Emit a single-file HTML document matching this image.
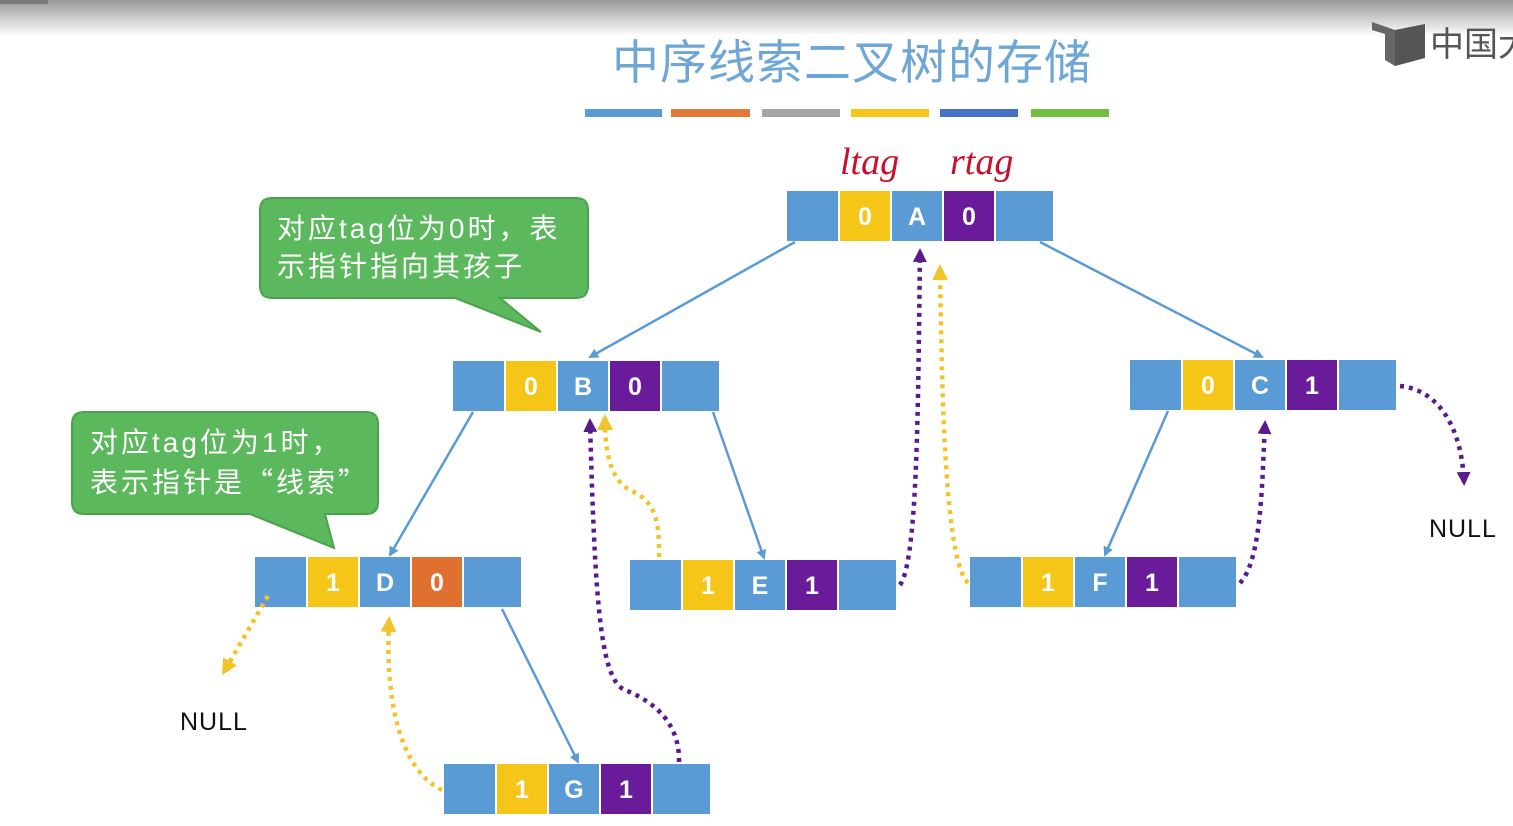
<!DOCTYPE html>
<html><head><meta charset="utf-8"><style>
html,body{margin:0;padding:0;background:#fff;}
body{width:1513px;height:826px;overflow:hidden;position:relative;font-family:"Liberation Sans","Noto Sans CJK SC",sans-serif;}
</style></head><body>
<svg width="1513" height="826" xmlns="http://www.w3.org/2000/svg" style="position:absolute;left:0;top:0">
<defs>
<linearGradient id="tg" x1="0" y1="0" x2="0" y2="1"><stop offset="0" stop-color="#9a9a9a"/><stop offset="1" stop-color="#ffffff"/></linearGradient>
<marker id="ab" markerWidth="10" markerHeight="10" refX="8" refY="5" orient="auto" markerUnits="userSpaceOnUse"><path d="M0,0 L10,5 L0,10 z" fill="#5b9bd5"/></marker>
<marker id="ay" markerWidth="16" markerHeight="16" refX="10" refY="8" orient="auto" markerUnits="userSpaceOnUse"><path d="M0,0 L16,8 L0,16 z" fill="#f2c42c"/></marker>
<marker id="ap" markerWidth="14" markerHeight="14" refX="10" refY="7" orient="auto" markerUnits="userSpaceOnUse"><path d="M0,0 L14,7 L0,14 z" fill="#5a1a8a"/></marker>
</defs>
<rect x="0" y="0" width="1513" height="36" fill="url(#tg)"/>
<rect x="0" y="0" width="48" height="4" fill="#777"/>
<path d="M1372,22 L1395,30 L1395,66 L1385,60 L1385,34 L1372,30 z" fill="#666"/>
<path d="M1395,30 L1425,24 L1425,58 L1395,66 z" fill="#555"/>
<text x="1430" y="56" font-size="34" fill="#555" font-family="Noto Sans CJK SC,sans-serif">中国大</text>
<text x="612" y="79" font-size="47" letter-spacing="1" fill="#6ea6d6" font-family="Noto Sans CJK SC,sans-serif">中序线索二叉树的存储</text>
<rect x="585" y="109" width="77" height="8" fill="#5b9bd5"/>
<rect x="671" y="109" width="79" height="8" fill="#e07a3a"/>
<rect x="762" y="109" width="78" height="8" fill="#a5a5a5"/>
<rect x="851" y="109" width="78" height="8" fill="#f5c518"/>
<rect x="940" y="109" width="78" height="8" fill="#4472c4"/>
<rect x="1031" y="109" width="78" height="8" fill="#70c040"/>
<text x="840" y="174" font-size="38" fill="#c8102e" font-style="italic" font-family="Liberation Serif,serif">ltag</text>
<text x="950" y="174" font-size="38" fill="#c8102e" font-style="italic" font-family="Liberation Serif,serif">rtag</text>
<g font-size="25" font-weight="bold" fill="#fff" text-anchor="middle">
<g transform="translate(787,191)"><rect x="0" y="0" width="51" height="50" fill="#5b9bd5"/><rect x="53" width="50" height="50" fill="#f5c518"/><rect x="105" width="50" height="50" fill="#5b9bd5"/><rect x="157" width="50" height="50" fill="#6a1b9a"/><rect x="209" width="57" height="50" fill="#5b9bd5"/><text x="78" y="34">0</text><text x="130" y="34">A</text><text x="182" y="34">0</text></g>
<g transform="translate(453,361)"><rect x="0" y="0" width="51" height="50" fill="#5b9bd5"/><rect x="53" width="50" height="50" fill="#f5c518"/><rect x="105" width="50" height="50" fill="#5b9bd5"/><rect x="157" width="50" height="50" fill="#6a1b9a"/><rect x="209" width="57" height="50" fill="#5b9bd5"/><text x="78" y="34">0</text><text x="130" y="34">B</text><text x="182" y="34">0</text></g>
<g transform="translate(1130,360)"><rect x="0" y="0" width="51" height="50" fill="#5b9bd5"/><rect x="53" width="50" height="50" fill="#f5c518"/><rect x="105" width="50" height="50" fill="#5b9bd5"/><rect x="157" width="50" height="50" fill="#6a1b9a"/><rect x="209" width="57" height="50" fill="#5b9bd5"/><text x="78" y="34">0</text><text x="130" y="34">C</text><text x="182" y="34">1</text></g>
<g transform="translate(255,557)"><rect x="0" y="0" width="51" height="50" fill="#5b9bd5"/><rect x="53" width="50" height="50" fill="#f5c518"/><rect x="105" width="50" height="50" fill="#5b9bd5"/><rect x="157" width="50" height="50" fill="#e07030"/><rect x="209" width="57" height="50" fill="#5b9bd5"/><text x="78" y="34">1</text><text x="130" y="34">D</text><text x="182" y="34">0</text></g>
<g transform="translate(630,560)"><rect x="0" y="0" width="51" height="50" fill="#5b9bd5"/><rect x="53" width="50" height="50" fill="#f5c518"/><rect x="105" width="50" height="50" fill="#5b9bd5"/><rect x="157" width="50" height="50" fill="#6a1b9a"/><rect x="209" width="57" height="50" fill="#5b9bd5"/><text x="78" y="34">1</text><text x="130" y="34">E</text><text x="182" y="34">1</text></g>
<g transform="translate(970,557)"><rect x="0" y="0" width="51" height="50" fill="#5b9bd5"/><rect x="53" width="50" height="50" fill="#f5c518"/><rect x="105" width="50" height="50" fill="#5b9bd5"/><rect x="157" width="50" height="50" fill="#6a1b9a"/><rect x="209" width="57" height="50" fill="#5b9bd5"/><text x="78" y="34">1</text><text x="130" y="34">F</text><text x="182" y="34">1</text></g>
<g transform="translate(444,764)"><rect x="0" y="0" width="51" height="50" fill="#5b9bd5"/><rect x="53" width="50" height="50" fill="#f5c518"/><rect x="105" width="50" height="50" fill="#5b9bd5"/><rect x="157" width="50" height="50" fill="#6a1b9a"/><rect x="209" width="57" height="50" fill="#5b9bd5"/><text x="78" y="34">1</text><text x="130" y="34">G</text><text x="182" y="34">1</text></g>
</g>
<g stroke="#5b9bd5" stroke-width="2.5" fill="none" marker-end="url(#ab)">
<line x1="795" y1="242" x2="590" y2="357"/>
<line x1="1040" y1="242" x2="1262" y2="357"/>
<line x1="473" y1="412" x2="390" y2="555"/>
<line x1="713" y1="412" x2="764" y2="558"/>
<line x1="1168" y1="411" x2="1105" y2="555"/>
<line x1="502" y1="609" x2="578" y2="762"/>
</g>
<g fill="none" stroke-width="4.5" stroke-dasharray="4 5">
<path d="M268,596 L225,670" stroke="#f2c42c" marker-end="url(#ay)"/>
<path d="M442,790 C400,770 385,700 389,622" stroke="#f2c42c" marker-end="url(#ay)"/>
<path d="M659,557 C660,510 650,500 630,490 C610,480 605,450 605,420" stroke="#f2c42c" marker-end="url(#ay)"/>
<path d="M968,583 C945,560 942,400 940,270" stroke="#f2c42c" marker-end="url(#ay)"/>
<path d="M679,762 C680,720 650,700 625,690 C600,680 595,600 590,422" stroke="#5a1a8a" marker-end="url(#ap)"/>
<path d="M900,585 C918,560 918,400 920,252" stroke="#5a1a8a" marker-end="url(#ap)"/>
<path d="M1240,583 C1262,560 1262,480 1265,424" stroke="#5a1a8a" marker-end="url(#ap)"/>
<path d="M1400,386 C1440,390 1462,430 1464,482" stroke="#5a1a8a" marker-end="url(#ap)"/>
</g>
<text x="180" y="730" font-size="25" letter-spacing="1" fill="#111">NULL</text>
<text x="1429" y="537" font-size="25" letter-spacing="1" fill="#111">NULL</text>
<path d="M272,198 H576 Q588,198 588,210 V286 Q588,298 576,298 H500 L541,332 L455,298 H272 Q260,298 260,286 V210 Q260,198 272,198 z" fill="#5cb85c" stroke="#4aa34a" stroke-width="2"/>
<text x="277" y="238" font-size="28" letter-spacing="3" fill="#fff" font-family="Liberation Sans,Noto Sans CJK SC,sans-serif">对应tag位为0时，表</text>
<text x="277" y="276" font-size="28" letter-spacing="3" fill="#fff" font-family="Noto Sans CJK SC,sans-serif">示指针指向其孩子</text>
<path d="M84,412 H366 Q378,412 378,424 V502 Q378,514 366,514 H325 L334,548 L250,514 H84 Q72,514 72,502 V424 Q72,412 84,412 z" fill="#5cb85c" stroke="#4aa34a" stroke-width="2"/>
<text x="90" y="452" font-size="28" letter-spacing="3" fill="#fff" font-family="Liberation Sans,Noto Sans CJK SC,sans-serif">对应tag位为1时，</text>
<text x="90" y="492" font-size="28" letter-spacing="3" fill="#fff" font-family="Noto Sans CJK SC,sans-serif">表示指针是“线索”</text>
</svg>
</body></html>
